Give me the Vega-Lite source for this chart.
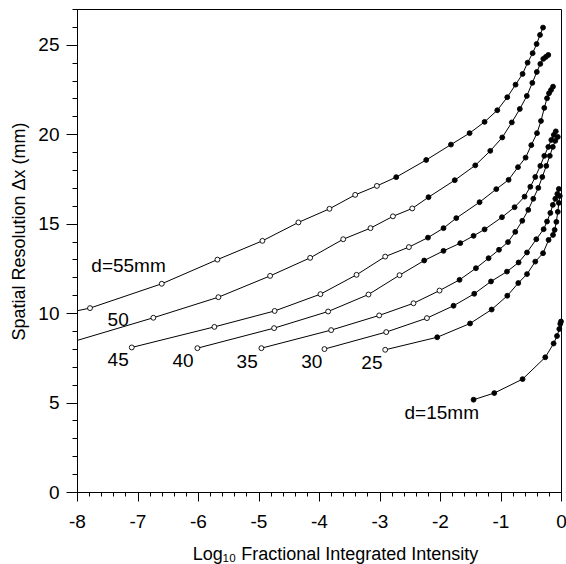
{
  "$schema": "https://vega.github.io/schema/vega-lite/v6.json",
  "width": 484,
  "height": 483,
  "autosize": {"type": "none"},
  "padding": {"left": 77, "top": 9, "right": 5, "bottom": 72},
  "background": "white",
  "config": {
    "view": {"stroke": "black", "strokeWidth": 1},
    "font": "Liberation Sans"
  },
  "datasets": {
    "curves": [
      {"d": 55, "logI": -8.0, "dx": 10.13, "kind": "none"},
      {"d": 55, "logI": -7.785, "dx": 10.28, "kind": "open"},
      {"d": 55, "logI": -6.599, "dx": 11.64, "kind": "open"},
      {"d": 55, "logI": -5.679, "dx": 12.99, "kind": "open"},
      {"d": 55, "logI": -4.935, "dx": 14.04, "kind": "open"},
      {"d": 55, "logI": -4.34, "dx": 15.07, "kind": "open"},
      {"d": 55, "logI": -3.827, "dx": 15.83, "kind": "open"},
      {"d": 55, "logI": -3.402, "dx": 16.61, "kind": "open"},
      {"d": 55, "logI": -3.043, "dx": 17.11, "kind": "open"},
      {"d": 55, "logI": -2.724, "dx": 17.6, "kind": "filled"},
      {"d": 55, "logI": -2.228, "dx": 18.56, "kind": "filled"},
      {"d": 55, "logI": -1.819, "dx": 19.42, "kind": "filled"},
      {"d": 55, "logI": -1.511, "dx": 20.06, "kind": "filled"},
      {"d": 55, "logI": -1.263, "dx": 20.69, "kind": "filled"},
      {"d": 55, "logI": -1.053, "dx": 21.34, "kind": "filled"},
      {"d": 55, "logI": -0.888, "dx": 22.07, "kind": "filled"},
      {"d": 55, "logI": -0.751, "dx": 22.77, "kind": "filled"},
      {"d": 55, "logI": -0.635, "dx": 23.37, "kind": "filled"},
      {"d": 55, "logI": -0.552, "dx": 24.0, "kind": "filled"},
      {"d": 55, "logI": -0.469, "dx": 24.53, "kind": "filled"},
      {"d": 55, "logI": -0.403, "dx": 25.04, "kind": "filled"},
      {"d": 55, "logI": -0.347, "dx": 25.55, "kind": "filled"},
      {"d": 55, "logI": -0.297, "dx": 25.96, "kind": "filled"},

      {"d": 50, "logI": -8.0, "dx": 8.47, "kind": "none"},
      {"d": 50, "logI": -6.738, "dx": 9.74, "kind": "open"},
      {"d": 50, "logI": -5.663, "dx": 10.89, "kind": "open"},
      {"d": 50, "logI": -4.808, "dx": 12.08, "kind": "open"},
      {"d": 50, "logI": -4.146, "dx": 13.09, "kind": "open"},
      {"d": 50, "logI": -3.6, "dx": 14.13, "kind": "open"},
      {"d": 50, "logI": -3.149, "dx": 14.75, "kind": "open"},
      {"d": 50, "logI": -2.778, "dx": 15.41, "kind": "open"},
      {"d": 50, "logI": -2.459, "dx": 15.85, "kind": "open"},
      {"d": 50, "logI": -2.19, "dx": 16.48, "kind": "filled"},
      {"d": 50, "logI": -1.756, "dx": 17.43, "kind": "filled"},
      {"d": 50, "logI": -1.417, "dx": 18.26, "kind": "filled"},
      {"d": 50, "logI": -1.169, "dx": 19.07, "kind": "filled"},
      {"d": 50, "logI": -0.971, "dx": 19.82, "kind": "filled"},
      {"d": 50, "logI": -0.813, "dx": 20.66, "kind": "filled"},
      {"d": 50, "logI": -0.681, "dx": 21.41, "kind": "filled"},
      {"d": 50, "logI": -0.565, "dx": 22.14, "kind": "filled"},
      {"d": 50, "logI": -0.474, "dx": 22.87, "kind": "filled"},
      {"d": 50, "logI": -0.4, "dx": 23.48, "kind": "filled"},
      {"d": 50, "logI": -0.342, "dx": 23.93, "kind": "filled"},
      {"d": 50, "logI": -0.293, "dx": 24.21, "kind": "filled"},
      {"d": 50, "logI": -0.251, "dx": 24.32, "kind": "filled"},
      {"d": 50, "logI": -0.21, "dx": 24.43, "kind": "filled"},

      {"d": 45, "logI": -7.095, "dx": 8.08, "kind": "open"},
      {"d": 45, "logI": -5.729, "dx": 9.23, "kind": "open"},
      {"d": 45, "logI": -4.733, "dx": 10.12, "kind": "open"},
      {"d": 45, "logI": -3.976, "dx": 11.06, "kind": "open"},
      {"d": 45, "logI": -3.38, "dx": 12.14, "kind": "open"},
      {"d": 45, "logI": -2.906, "dx": 13.16, "kind": "open"},
      {"d": 45, "logI": -2.514, "dx": 13.69, "kind": "open"},
      {"d": 45, "logI": -2.199, "dx": 14.22, "kind": "filled"},
      {"d": 45, "logI": -1.942, "dx": 14.75, "kind": "filled"},
      {"d": 45, "logI": -1.731, "dx": 15.31, "kind": "filled"},
      {"d": 45, "logI": -1.346, "dx": 16.2, "kind": "filled"},
      {"d": 45, "logI": -1.07, "dx": 16.93, "kind": "filled"},
      {"d": 45, "logI": -0.866, "dx": 17.45, "kind": "filled"},
      {"d": 45, "logI": -0.711, "dx": 18.16, "kind": "filled"},
      {"d": 45, "logI": -0.585, "dx": 18.69, "kind": "filled"},
      {"d": 45, "logI": -0.491, "dx": 19.39, "kind": "filled"},
      {"d": 45, "logI": -0.397, "dx": 20.06, "kind": "filled"},
      {"d": 45, "logI": -0.331, "dx": 20.74, "kind": "filled"},
      {"d": 45, "logI": -0.276, "dx": 21.47, "kind": "filled"},
      {"d": 45, "logI": -0.231, "dx": 22.01, "kind": "filled"},
      {"d": 45, "logI": -0.198, "dx": 22.29, "kind": "filled"},
      {"d": 45, "logI": -0.165, "dx": 22.47, "kind": "filled"},
      {"d": 45, "logI": -0.132, "dx": 22.66, "kind": "filled"},

      {"d": 40, "logI": -6.01, "dx": 8.04, "kind": "open"},
      {"d": 40, "logI": -4.742, "dx": 9.16, "kind": "open"},
      {"d": 40, "logI": -3.849, "dx": 10.09, "kind": "open"},
      {"d": 40, "logI": -3.182, "dx": 11.04, "kind": "open"},
      {"d": 40, "logI": -2.669, "dx": 12.12, "kind": "open"},
      {"d": 40, "logI": -2.261, "dx": 12.94, "kind": "filled"},
      {"d": 40, "logI": -1.942, "dx": 13.48, "kind": "filled"},
      {"d": 40, "logI": -1.665, "dx": 13.91, "kind": "filled"},
      {"d": 40, "logI": -1.445, "dx": 14.32, "kind": "filled"},
      {"d": 40, "logI": -1.263, "dx": 14.68, "kind": "filled"},
      {"d": 40, "logI": -0.976, "dx": 15.36, "kind": "filled"},
      {"d": 40, "logI": -0.767, "dx": 15.92, "kind": "filled"},
      {"d": 40, "logI": -0.602, "dx": 16.51, "kind": "filled"},
      {"d": 40, "logI": -0.507, "dx": 17.06, "kind": "filled"},
      {"d": 40, "logI": -0.425, "dx": 17.61, "kind": "filled"},
      {"d": 40, "logI": -0.342, "dx": 18.23, "kind": "filled"},
      {"d": 40, "logI": -0.276, "dx": 18.79, "kind": "filled"},
      {"d": 40, "logI": -0.21, "dx": 19.29, "kind": "filled"},
      {"d": 40, "logI": -0.16, "dx": 19.68, "kind": "filled"},
      {"d": 40, "logI": -0.119, "dx": 19.96, "kind": "filled"},
      {"d": 40, "logI": -0.086, "dx": 20.16, "kind": "filled"},

      {"d": 35, "logI": -4.952, "dx": 8.04, "kind": "open"},
      {"d": 35, "logI": -3.799, "dx": 9.05, "kind": "open"},
      {"d": 35, "logI": -3.005, "dx": 9.87, "kind": "open"},
      {"d": 35, "logI": -2.438, "dx": 10.55, "kind": "open"},
      {"d": 35, "logI": -2.008, "dx": 11.26, "kind": "open"},
      {"d": 35, "logI": -1.677, "dx": 11.86, "kind": "filled"},
      {"d": 35, "logI": -1.406, "dx": 12.51, "kind": "filled"},
      {"d": 35, "logI": -1.197, "dx": 13.07, "kind": "filled"},
      {"d": 35, "logI": -1.025, "dx": 13.54, "kind": "filled"},
      {"d": 35, "logI": -0.876, "dx": 13.97, "kind": "filled"},
      {"d": 35, "logI": -0.756, "dx": 14.54, "kind": "filled"},
      {"d": 35, "logI": -0.64, "dx": 15.16, "kind": "filled"},
      {"d": 35, "logI": -0.541, "dx": 15.77, "kind": "filled"},
      {"d": 35, "logI": -0.458, "dx": 16.39, "kind": "filled"},
      {"d": 35, "logI": -0.375, "dx": 17.0, "kind": "filled"},
      {"d": 35, "logI": -0.309, "dx": 17.61, "kind": "filled"},
      {"d": 35, "logI": -0.243, "dx": 18.23, "kind": "filled"},
      {"d": 35, "logI": -0.185, "dx": 18.79, "kind": "filled"},
      {"d": 35, "logI": -0.135, "dx": 19.29, "kind": "filled"},
      {"d": 35, "logI": -0.094, "dx": 19.63, "kind": "filled"},
      {"d": 35, "logI": -0.053, "dx": 19.85, "kind": "filled"},

      {"d": 30, "logI": -3.91, "dx": 7.99, "kind": "open"},
      {"d": 30, "logI": -2.889, "dx": 8.94, "kind": "open"},
      {"d": 30, "logI": -2.216, "dx": 9.72, "kind": "open"},
      {"d": 30, "logI": -1.776, "dx": 10.41, "kind": "filled"},
      {"d": 30, "logI": -1.434, "dx": 11.08, "kind": "filled"},
      {"d": 30, "logI": -1.157, "dx": 11.77, "kind": "filled"},
      {"d": 30, "logI": -0.893, "dx": 12.32, "kind": "filled"},
      {"d": 30, "logI": -0.701, "dx": 12.83, "kind": "filled"},
      {"d": 30, "logI": -0.562, "dx": 13.39, "kind": "filled"},
      {"d": 30, "logI": -0.408, "dx": 14.13, "kind": "filled"},
      {"d": 30, "logI": -0.287, "dx": 14.69, "kind": "filled"},
      {"d": 30, "logI": -0.231, "dx": 15.12, "kind": "filled"},
      {"d": 30, "logI": -0.176, "dx": 15.6, "kind": "filled"},
      {"d": 30, "logI": -0.135, "dx": 16.05, "kind": "filled"},
      {"d": 30, "logI": -0.094, "dx": 16.39, "kind": "filled"},
      {"d": 30, "logI": -0.061, "dx": 16.66, "kind": "filled"},
      {"d": 30, "logI": -0.036, "dx": 16.94, "kind": "filled"},

      {"d": 25, "logI": -2.906, "dx": 7.95, "kind": "open"},
      {"d": 25, "logI": -2.046, "dx": 8.65, "kind": "filled"},
      {"d": 25, "logI": -1.503, "dx": 9.42, "kind": "filled"},
      {"d": 25, "logI": -1.146, "dx": 10.2, "kind": "filled"},
      {"d": 25, "logI": -0.888, "dx": 10.97, "kind": "filled"},
      {"d": 25, "logI": -0.706, "dx": 11.68, "kind": "filled"},
      {"d": 25, "logI": -0.562, "dx": 12.18, "kind": "filled"},
      {"d": 25, "logI": -0.425, "dx": 12.88, "kind": "filled"},
      {"d": 25, "logI": -0.297, "dx": 13.35, "kind": "filled"},
      {"d": 25, "logI": -0.205, "dx": 14.09, "kind": "filled"},
      {"d": 25, "logI": -0.132, "dx": 14.37, "kind": "filled"},
      {"d": 25, "logI": -0.105, "dx": 14.65, "kind": "filled"},
      {"d": 25, "logI": -0.077, "dx": 15.1, "kind": "filled"},
      {"d": 25, "logI": -0.053, "dx": 15.66, "kind": "filled"},
      {"d": 25, "logI": -0.036, "dx": 16.16, "kind": "filled"},
      {"d": 25, "logI": -0.02, "dx": 16.55, "kind": "filled"},

      {"d": 15, "logI": -1.445, "dx": 5.16, "kind": "filled"},
      {"d": 15, "logI": -1.103, "dx": 5.53, "kind": "filled"},
      {"d": 15, "logI": -0.635, "dx": 6.31, "kind": "filled"},
      {"d": 15, "logI": -0.26, "dx": 7.53, "kind": "filled"},
      {"d": 15, "logI": -0.122, "dx": 8.3, "kind": "filled"},
      {"d": 15, "logI": -0.066, "dx": 8.72, "kind": "filled"},
      {"d": 15, "logI": -0.028, "dx": 9.11, "kind": "filled"},
      {"d": 15, "logI": -0.012, "dx": 9.4, "kind": "filled"},
      {"d": 15, "logI": 0.0, "dx": 9.53, "kind": "filled"}
    ],
    "labels": [
      {"label": "d=55mm", "logI": -7.148, "dx": 12.66},
      {"label": "50", "logI": -7.32, "dx": 9.63},
      {"label": "45", "logI": -7.32, "dx": 7.4},
      {"label": "40", "logI": -6.247, "dx": 7.3},
      {"label": "35", "logI": -5.188, "dx": 7.28},
      {"label": "30", "logI": -4.118, "dx": 7.28},
      {"label": "25", "logI": -3.126, "dx": 7.2},
      {"label": "d=15mm", "logI": -1.971, "dx": 4.4}
    ]
  },
  "layer": [
    {
      "data": {"name": "curves"},
      "mark": {"type": "line", "color": "black", "strokeWidth": 1},
      "encoding": {
        "x": {
          "field": "logI",
          "type": "quantitative",
          "scale": {"domain": [-8, 0], "nice": false, "zero": false},
          "axis": {
            "title": "Log₁₀ Fractional Integrated Intensity",
            "tickCount": 32,
            "grid": false,
            "domainColor": "black",
            "tickColor": "black",
            "tickSize": {"condition": {"test": "abs(datum.value % 1) > 0.01", "value": 4}, "value": 9},
            "labelExpr": "abs(datum.value % 1) > 0.01 ? '' : ('' + round(datum.value))",
            "labelOverlap": false,
            "labelFlush": false,
            "labelFontSize": 19,
            "labelColor": "black",
            "labelPadding": 11,
            "titleFontSize": 18,
            "titleFontWeight": "normal",
            "titleColor": "black",
            "titleX": 258,
            "titleY": 67,
            "titleAlign": "center",
            "titleBaseline": "alphabetic"
          }
        },
        "y": {
          "field": "dx",
          "type": "quantitative",
          "scale": {"domain": [0, 27], "nice": false, "zero": false},
          "axis": {
            "title": "Spatial Resolution Δx (mm)",
            "tickCount": 27,
            "grid": false,
            "domainColor": "black",
            "tickColor": "black",
            "tickSize": {"condition": {"test": "abs(datum.value % 5) > 0.01", "value": 5}, "value": 11},
            "labelExpr": "abs(datum.value % 5) > 0.01 ? '' : ('' + round(datum.value))",
            "labelOverlap": false,
            "labelFlush": false,
            "labelFontSize": 19,
            "labelColor": "black",
            "labelPadding": 7,
            "titleFontSize": 18,
            "titleFontWeight": "normal",
            "titleColor": "black",
            "titleAngle": -90,
            "titleX": -58,
            "titleY": 222,
            "titleAlign": "center",
            "titleBaseline": "middle"
          }
        },
        "detail": {"field": "d", "type": "nominal"}
      }
    },
    {
      "data": {"name": "curves"},
      "transform": [{"filter": "datum.kind !== 'none'"}],
      "mark": {"type": "point", "shape": "circle", "filled": false, "size": 24, "stroke": "black", "strokeWidth": 0.9, "strokeOpacity": 1, "opacity": 1},
      "encoding": {
        "x": {"field": "logI", "type": "quantitative"},
        "y": {"field": "dx", "type": "quantitative"},
        "fill": {
          "field": "kind",
          "type": "nominal",
          "scale": {"domain": ["open", "filled"], "range": ["white", "black"]},
          "legend": null
        },
        "fillOpacity": {"value": 1}
      }
    },
    {
      "data": {"name": "labels"},
      "mark": {"type": "text", "fontSize": 19, "color": "black", "align": "center", "baseline": "middle"},
      "encoding": {
        "x": {"field": "logI", "type": "quantitative"},
        "y": {"field": "dx", "type": "quantitative"},
        "text": {"field": "label"}
      }
    }
  ]
}
